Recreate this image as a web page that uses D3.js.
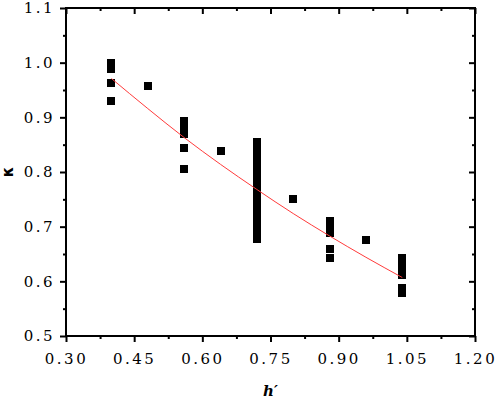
<!DOCTYPE html>
<html>
<head>
<meta charset="utf-8">
<script src="https://cdn.jsdelivr.net/npm/d3@7"></script>
<style>
  body { margin: 0; background: #fff; }
  .tick text { font-family: "DejaVu Serif", "Liberation Serif", serif; font-size: 15px; letter-spacing: 2.5px; fill: #000; }
</style>
</head>
<body>
<svg id="chart"></svg>
<script>
// measured points, h' value and kappa value
var hVals = [0.40, 0.40, 0.40, 0.40, 0.40,
  0.48,
  0.56, 0.56, 0.56, 0.56, 0.56, 0.56, 0.56, 0.56,
  0.64,
  0.72, 0.72, 0.72, 0.72, 0.72, 0.72, 0.72, 0.72, 0.72, 0.72,
  0.72, 0.72, 0.72, 0.72, 0.72, 0.72, 0.72, 0.72, 0.72,
  0.80,
  0.88, 0.88, 0.88, 0.88, 0.88,
  0.96,
  1.04, 1.04, 1.04, 1.04, 1.04, 1.04];
var kVals = [1.000, 0.995, 0.989, 0.963, 0.929,
  0.957,
  0.893, 0.888, 0.883, 0.878, 0.873, 0.869, 0.843, 0.805,
  0.838,
  0.855, 0.845, 0.835, 0.825, 0.815, 0.805, 0.795, 0.785, 0.775, 0.765,
  0.755, 0.745, 0.735, 0.725, 0.715, 0.705, 0.695, 0.685, 0.677,
  0.750,
  0.711, 0.700, 0.689, 0.660, 0.643,
  0.676,
  0.642, 0.632, 0.622, 0.612, 0.587, 0.579];

// fitted curve
var fitH = [0.40, 0.48, 0.56, 0.64, 0.72, 0.80, 0.88, 0.96, 1.04];
var fitK = [0.971, 0.916, 0.863, 0.814, 0.768, 0.724, 0.683, 0.644, 0.607];

var xTicks = [0.30, 0.45, 0.60, 0.75, 0.90, 1.05, 1.20];
var yTicks = [0.5, 0.6, 0.7, 0.8, 0.9, 1.0, 1.1];

var w = 498;
var h = 402;
var padding = {top: 8, bottom: 66, left: 66, right: 23};

var svg = d3.select("#chart")
  .attr("width", w)
  .attr("height", h);

var xScale = d3.scaleLinear()
  .domain([0.30, 1.20])
  .range([padding.left, w - padding.right]);

var yScale = d3.scaleLinear()
  .domain([0.5, 1.1])
  .range([h - padding.bottom, padding.top]);

var xMinor = d3.range(0.375, 1.2, 0.15);
var yMinor = d3.range(0.55, 1.1, 0.1);

function styleAxis(g) {
  g.select(".domain").remove();
  g.selectAll(".tick line").attr("stroke", "#000").attr("stroke-width", 2);
}

// bottom axis
svg.append("g")
  .attr("transform", "translate(0," + (h - padding.bottom) + ")")
  .call(d3.axisBottom(xScale).tickValues(xTicks).tickSize(6).tickPadding(11)
    .tickFormat(d3.format(".2f")))
  .call(styleAxis);
svg.append("g")
  .attr("transform", "translate(0," + (h - padding.bottom) + ")")
  .call(d3.axisBottom(xScale).tickValues(xMinor).tickSize(3).tickFormat(""))
  .call(styleAxis);

// left axis
svg.append("g")
  .attr("transform", "translate(" + padding.left + ",0)")
  .call(d3.axisLeft(yScale).tickValues(yTicks).tickSize(6).tickPadding(5)
    .tickFormat(d3.format(".1f")))
  .call(styleAxis);
svg.append("g")
  .attr("transform", "translate(" + padding.left + ",0)")
  .call(d3.axisLeft(yScale).tickValues(yMinor).tickSize(3).tickFormat(""))
  .call(styleAxis);

// top and right axes, ticks inside
svg.append("g")
  .attr("transform", "translate(0," + padding.top + ")")
  .call(d3.axisTop(xScale).tickValues(xTicks).tickSize(-6).tickFormat(""))
  .call(styleAxis);
svg.append("g")
  .attr("transform", "translate(0," + padding.top + ")")
  .call(d3.axisTop(xScale).tickValues(xMinor).tickSize(-3).tickFormat(""))
  .call(styleAxis);
svg.append("g")
  .attr("transform", "translate(" + (w - padding.right) + ",0)")
  .call(d3.axisRight(yScale).tickValues(yTicks).tickSize(-6).tickFormat(""))
  .call(styleAxis);
svg.append("g")
  .attr("transform", "translate(" + (w - padding.right) + ",0)")
  .call(d3.axisRight(yScale).tickValues(yMinor).tickSize(-3).tickFormat(""))
  .call(styleAxis);

// frame
svg.append("rect")
  .attr("x", xScale(0.30))
  .attr("y", yScale(1.1))
  .attr("width", xScale(1.20) - xScale(0.30))
  .attr("height", yScale(0.5) - yScale(1.1))
  .attr("fill", "none")
  .attr("stroke", "#000")
  .attr("stroke-width", 2);

// points
var size = 8;
svg.selectAll("rect.pt")
  .data(hVals)
  .enter()
  .append("rect")
  .attr("class", "pt")
  .attr("x", function(d) { return xScale(d) - size / 2; })
  .attr("y", function(d, i) { return yScale(kVals[i]) - size / 2; })
  .attr("width", size)
  .attr("height", size)
  .attr("fill", "#000")
  .attr("shape-rendering", "crispEdges");

// fit line
var line = d3.line()
  .x(function(d) { return xScale(d); })
  .y(function(d, i) { return yScale(fitK[i]); })
  .curve(d3.curveMonotoneX);

svg.append("path")
  .datum(fitH)
  .attr("d", line)
  .attr("fill", "none")
  .attr("stroke", "#ff3b3b")
  .attr("stroke-width", 1);

// axis labels
svg.append("text")
  .text("h\u2032")
  .attr("x", (xScale(0.30) + xScale(1.20)) / 2)
  .attr("y", 396)
  .attr("text-anchor", "middle")
  .attr("font-family", "DejaVu Serif, serif")
  .attr("font-style", "italic")
  .attr("font-weight", "bold")
  .attr("font-size", "15px");

svg.append("text")
  .text("\u03ba")
  .attr("transform", "translate(13," + yScale(0.8) + ") rotate(-90)")
  .attr("text-anchor", "middle")
  .attr("font-family", "DejaVu Sans, sans-serif")
  .attr("font-weight", "bold")
  .attr("font-size", "15px");
</script>
</body>
</html>
